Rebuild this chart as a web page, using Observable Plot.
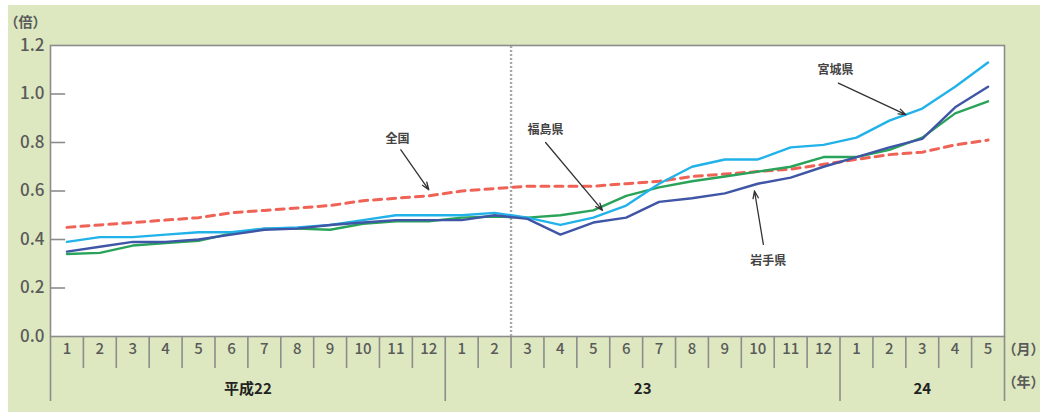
<!DOCTYPE html>
<html lang="ja">
<head>
<meta charset="utf-8">
<script src="https://cdn.jsdelivr.net/npm/d3@7"></script>
<script src="https://cdn.jsdelivr.net/npm/@observablehq/plot@0.6"></script>
<style>
  body { margin: 0; background: #fff; }
  #wrap { position: relative; width: 1043px; height: 416px; }
  #panel { position: absolute; left: 8px; top: 5px; width: 1032px; height: 407px; background: #dde8c0; }
  #chart { position: absolute; left: 0; top: 0; }
  #chart svg { background: transparent; }
</style>
</head>
<body>
<div id="wrap"><div id="panel"></div><div id="chart"></div></div>
<script>
// 有効求人倍率（平成22年1月〜平成24年5月）
const monthLabels = [
  1, 2, 3, 4, 5, 6, 7, 8, 9, 10, 11, 12,
  1, 2, 3, 4, 5, 6, 7, 8, 9, 10, 11, 12,
  1, 2, 3, 4, 5
];
const yearLabels = ["平成22", "23", "24"];
const yearMonthCounts = [12, 12, 5];

const zenkoku   = [0.45, 0.46, 0.47, 0.48, 0.49, 0.51, 0.52, 0.53, 0.54, 0.56, 0.57, 0.58,
                   0.60, 0.61, 0.62, 0.62, 0.62, 0.63, 0.64, 0.66, 0.67, 0.68, 0.69, 0.71,
                   0.73, 0.75, 0.76, 0.79, 0.81];
const miyagi    = [0.39, 0.41, 0.41, 0.42, 0.43, 0.43, 0.445, 0.45, 0.46, 0.48, 0.50, 0.50,
                   0.50, 0.51, 0.49, 0.46, 0.49, 0.54, 0.63, 0.70, 0.73, 0.73, 0.78, 0.79,
                   0.82, 0.89, 0.94, 1.03, 1.13];
const iwate     = [0.35, 0.37, 0.39, 0.39, 0.40, 0.42, 0.44, 0.445, 0.46, 0.47, 0.48, 0.48,
                   0.48, 0.50, 0.485, 0.42, 0.47, 0.49, 0.555, 0.57, 0.59, 0.63, 0.655, 0.70,
                   0.74, 0.78, 0.815, 0.945, 1.03];
const fukushima = [0.34, 0.345, 0.375, 0.385, 0.395, 0.425, 0.445, 0.445, 0.44, 0.465, 0.475, 0.475,
                   0.49, 0.495, 0.49, 0.50, 0.52, 0.58, 0.615, 0.64, 0.66, 0.68, 0.70, 0.74,
                   0.74, 0.77, 0.82, 0.92, 0.97];

const yTicks = [0, 0.2, 0.4, 0.6, 0.8, 1.0, 1.2];
// 東日本大震災（平成23年3月）の位置：その月の区切り
const quakeMonthIndex = 14;

// 系列名ラベルと引き出し線（x は月の通し番号、y は倍率）
const callouts = [
  {name: "全国",   tx: 10.55, ty: 0.815, x1: 10.65, y1: 0.77, x2: 11.5,  y2: 0.605},
  {name: "福島県", tx: 15.05, ty: 0.85,  x1: 15.05, y1: 0.80, x2: 16.78, y2: 0.52},
  {name: "宮城県", tx: 23.86, ty: 1.10,  x1: 23.95, y1: 1.045, x2: 26.0, y2: 0.915},
  {name: "岩手県", tx: 21.82, ty: 0.31,  x1: 21.67, y1: 0.38, x2: 21.4,  y2: 0.60}
];

const nMonths = monthLabels.length;
const toPoints = (arr) => arr.map((v, i) => ({x: i + 0.5, v}));

// year boundaries built from month counts
const yearBounds = [0];
yearMonthCounts.forEach(c => yearBounds.push(yearBounds[yearBounds.length - 1] + c));
const years = yearLabels.map((label, i) => ({label, mid: (yearBounds[i] + yearBounds[i + 1]) / 2}));
const monthSeps = d3.range(1, nMonths).filter(i => !yearBounds.includes(i));

const font = "'Noto Sans CJK JP', 'Noto Sans', sans-serif";
const grayText = "#5a5a5a";
const axisGray = "#8c8c8c";

const chart = Plot.plot({
  width: 1043,
  height: 416,
  marginLeft: 50,
  marginRight: 39,
  marginTop: 45,
  marginBottom: 80,
  style: {fontFamily: font, background: "transparent", overflow: "visible"},
  x: {domain: [0, nMonths], axis: null},
  y: {domain: [0, 1.2], axis: null},
  marks: [
    Plot.frame({fill: "white", stroke: axisGray, strokeWidth: 1.6}),
    // inner y ticks
    Plot.ruleY(yTicks.slice(1, -1), {x1: 0, x2: 0.46, stroke: axisGray, strokeWidth: 1.6}),
    // y tick labels
    Plot.text(yTicks, {
      y: d => d, text: d => d.toFixed(1), frameAnchor: "left", dx: -6,
      textAnchor: "end", fontSize: 17, fill: grayText, fontWeight: 500
    }),
    Plot.text(["（倍）"], {
      frameAnchor: "top-left", dx: -46, dy: -28, textAnchor: "start",
      fontSize: 14, fill: grayText, fontWeight: "bold"
    }),
    // month separators and year boundaries below the axis
    Plot.ruleX(monthSeps, {y1: 0, y2: -0.132, stroke: axisGray, strokeWidth: 1.6}),
    Plot.ruleX(yearBounds, {y1: 0, y2: -0.268, stroke: axisGray, strokeWidth: 1.6}),
    Plot.text(monthLabels, {
      x: (d, i) => i + 0.5, text: d => String(d), frameAnchor: "bottom", dy: 17,
      fontSize: 15, fill: grayText, fontWeight: 500
    }),
    Plot.text(years, {
      x: "mid", text: "label", frameAnchor: "bottom", dy: 57,
      fontSize: 15, fill: "#222", fontWeight: "bold"
    }),
    Plot.text(["（月）"], {frameAnchor: "bottom-right", dx: -2, dy: 17, textAnchor: "start", fontSize: 14, fill: grayText, fontWeight: "bold"}),
    Plot.text(["（年）"], {frameAnchor: "bottom-right", dx: -2, dy: 50, textAnchor: "start", fontSize: 14, fill: grayText, fontWeight: "bold"}),
    // earthquake marker
    Plot.ruleX([quakeMonthIndex], {y1: 0, y2: 1.2, stroke: "#a8a8a8", strokeWidth: 2.4, strokeDasharray: "2,2"}),
    // series
    Plot.line(toPoints(zenkoku), {x: "x", y: "v", stroke: "#ef6357", strokeWidth: 3, strokeDasharray: "8,6"}),
    Plot.line(toPoints(fukushima), {x: "x", y: "v", stroke: "#2aa35a", strokeWidth: 2.4}),
    Plot.line(toPoints(miyagi), {x: "x", y: "v", stroke: "#22b2ea", strokeWidth: 2.4}),
    Plot.line(toPoints(iwate), {x: "x", y: "v", stroke: "#3f56a6", strokeWidth: 2.4}),
    // callouts
    Plot.arrow(callouts, {
      x1: "x1", y1: "y1", x2: "x2", y2: "y2", stroke: "#333", strokeWidth: 1.3,
      headLength: 9, headAngle: 40
    }),
    Plot.text(callouts, {
      x: "tx", y: "ty", text: "name", fontSize: 12, fill: "#444", fontWeight: "bold"
    })
  ]
});

document.getElementById("chart").appendChild(chart);
</script>
</body>
</html>
